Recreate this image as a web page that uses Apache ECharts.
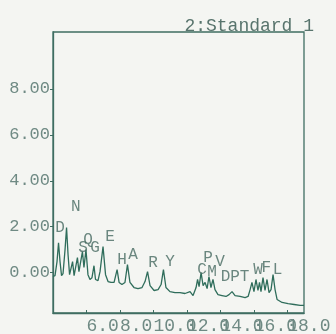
<!DOCTYPE html>
<html>
<head>
<meta charset="utf-8">
<script src="https://cdn.jsdelivr.net/npm/echarts@6/dist/echarts.min.js"></script>
<style>
  html, body { margin: 0; padding: 0; background: #f4f5f2; }
  #chart { width: 336px; height: 334px; }
</style>
</head>
<body>
<div id="chart"></div>
<script>
// Chromatogram trace: retention time (min) and detector signal
const times = [
  4.00, 4.12, 4.24, 4.33, 4.42, 4.51, 4.60, 4.72, 4.81, 4.90,
  4.99, 5.08, 5.17, 5.26, 5.37, 5.46, 5.55, 5.64, 5.76, 5.85,
  5.97, 6.09, 6.21, 6.33, 6.45, 6.54, 6.69, 6.81, 6.99, 7.14,
  7.29, 7.47, 7.65, 7.83, 7.95, 8.12, 8.30, 8.45, 8.60, 8.84,
  9.08, 9.32, 9.50, 9.65, 9.80, 10.04, 10.28, 10.46, 10.60, 10.75,
  10.99, 11.29, 11.59, 11.89, 12.19, 12.37, 12.55, 12.64, 12.73, 12.85,
  12.97, 13.09, 13.21, 13.32, 13.44, 13.56, 13.68, 13.86, 14.10, 14.34,
  14.52, 14.70, 14.88, 15.18, 15.48, 15.66, 15.78, 15.89, 16.01, 16.13,
  16.25, 16.34, 16.43, 16.55, 16.67, 16.79, 16.91, 17.03, 17.15, 17.27,
  17.39, 17.69, 18.05, 18.41, 18.77, 19.00
];
const signal = [
  -0.17, -0.13, 0.48, 1.30, 0.48, -0.13, -0.04, 1.00, 1.96, 0.78,
  -0.09, -0.17, 0.48, -0.13, -0.09, 0.65, 0.04, 0.09, 0.91, 0.22,
  1.00, -0.09, -0.30, -0.22, 0.30, -0.30, -0.35, 0.04, 1.13, -0.09,
  -0.39, -0.43, -0.43, 0.13, -0.43, -0.52, -0.43, 0.35, -0.43, -0.65,
  -0.70, -0.65, -0.39, 0.04, -0.57, -0.78, -0.74, -0.52, 0.13, -0.65,
  -0.83, -0.87, -0.87, -0.91, -0.83, -1.00, -0.65, -0.30, -0.61, 0.00,
  -0.57, -0.43, -0.70, -0.17, -0.65, -0.30, -0.74, -0.96, -1.00, -1.04,
  -0.96, -0.83, -1.00, -1.04, -1.09, -1.04, -0.74, -0.43, -0.83, -0.30,
  -0.78, -0.43, -0.83, -0.22, -0.78, -0.30, -0.87, -0.74, -0.09, -0.74,
  -1.17, -1.30, -1.35, -1.39, -1.43, -1.43
];

// Peak annotations (name, time, label height)
const peakNames = ['D', 'N', 'S', 'Q', 'G', 'E', 'H', 'A', 'R', 'Y',
                   'C', 'P', 'M', 'V', 'DPT', 'W', 'F', 'L'];
const peakTimes = [4.42, 5.37, 5.79, 6.09, 6.51, 7.41, 8.12, 8.78, 9.98, 10.99,
                   12.91, 13.26, 13.50, 13.98, 14.88, 16.25, 16.75, 17.42];
const peakLevels = [1.96, 2.87, 1.09, 1.43, 1.09, 1.57, 0.57, 0.78, 0.43, 0.48,
                    0.13, 0.65, 0.04, 0.48, -0.17, 0.13, 0.22, 0.13];

// Axis ticks
const xTicks = [6, 8, 10, 12, 14, 16, 18];
const yTicks = [0, 2, 4, 6, 8];

// The time labels are wide and run into each other, so they are split over
// two stacked bottom axes: each axis alone has no overlapping labels and
// ECharts therefore keeps every one of them.
const xLabelsEven = xTicks.filter((_, i) => i % 2 === 0);
const xLabelsOdd = xTicks.filter((_, i) => i % 2 === 1);

const axisColor = '#3f6d62';
const textColor = '#6f8a84';
const monoFont = "'Liberation Mono', 'DejaVu Sans Mono', monospace";

const xLabelStyle = {
  formatter: v => v.toFixed(1),
  align: 'left',
  margin: 4,
  fontFamily: monoFont, fontSize: 18, color: textColor
};

const chart = echarts.init(document.getElementById('chart'), null, { renderer: 'canvas' });
chart.setOption({
  backgroundColor: '#f4f5f2',
  animation: false,
  title: {
    text: '2:Standard 1',
    right: 17,
    top: 12,
    textStyle: { fontFamily: monoFont, fontSize: 18, fontWeight: 'normal', color: '#58746d' }
  },
  grid: {
    left: 53, right: 32, top: 32, bottom: 21,
    outerBoundsMode: 'none',
    show: true, borderColor: axisColor, borderWidth: 1.3, backgroundColor: 'transparent'
  },
  xAxis: [
    {
      type: 'value',
      position: 'bottom',
      min: 4, max: 19,
      axisLine: { show: true, onZero: false, lineStyle: { color: axisColor, width: 1.3 } },
      axisTick: { show: true, inside: true, length: 3, customValues: xTicks, lineStyle: { color: axisColor } },
      axisLabel: Object.assign({ customValues: xLabelsEven }, xLabelStyle),
      splitLine: { show: false }
    },
    {
      type: 'value',
      position: 'bottom',
      min: 4, max: 19,
      axisLine: { show: false, onZero: false },
      axisTick: { show: false },
      axisLabel: Object.assign({ customValues: xLabelsOdd }, xLabelStyle),
      splitLine: { show: false }
    }
  ],
  yAxis: {
    type: 'value',
    min: -1.76, max: 10.48,
    axisLine: { show: true, onZero: false, lineStyle: { color: axisColor, width: 1.3 } },
    axisTick: { show: true, length: 3, customValues: yTicks, lineStyle: { color: axisColor } },
    axisLabel: {
      customValues: yTicks,
      formatter: v => v.toFixed(2),
      margin: 3,
      fontFamily: monoFont, fontSize: 17, color: textColor
    },
    splitLine: { show: false }
  },
  series: [
    {
      type: 'line',
      xAxisIndex: 0,
      data: times.map((t, i) => [t, signal[i]]),
      symbol: 'none',
      lineStyle: { color: '#2f6d5b', width: 1.3 },
      z: 3
    },
    {
      type: 'scatter',
      xAxisIndex: 0,
      data: peakTimes.map((t, i) => ({ value: [t, peakLevels[i]], name: peakNames[i] })),
      symbolSize: 0,
      silent: true,
      label: {
        show: true,
        position: 'inside',
        formatter: p => p.name,
        fontFamily: monoFont, fontSize: 16, color: '#476a62'
      },
      z: 4
    }
  ]
});
</script>
</body>
</html>
